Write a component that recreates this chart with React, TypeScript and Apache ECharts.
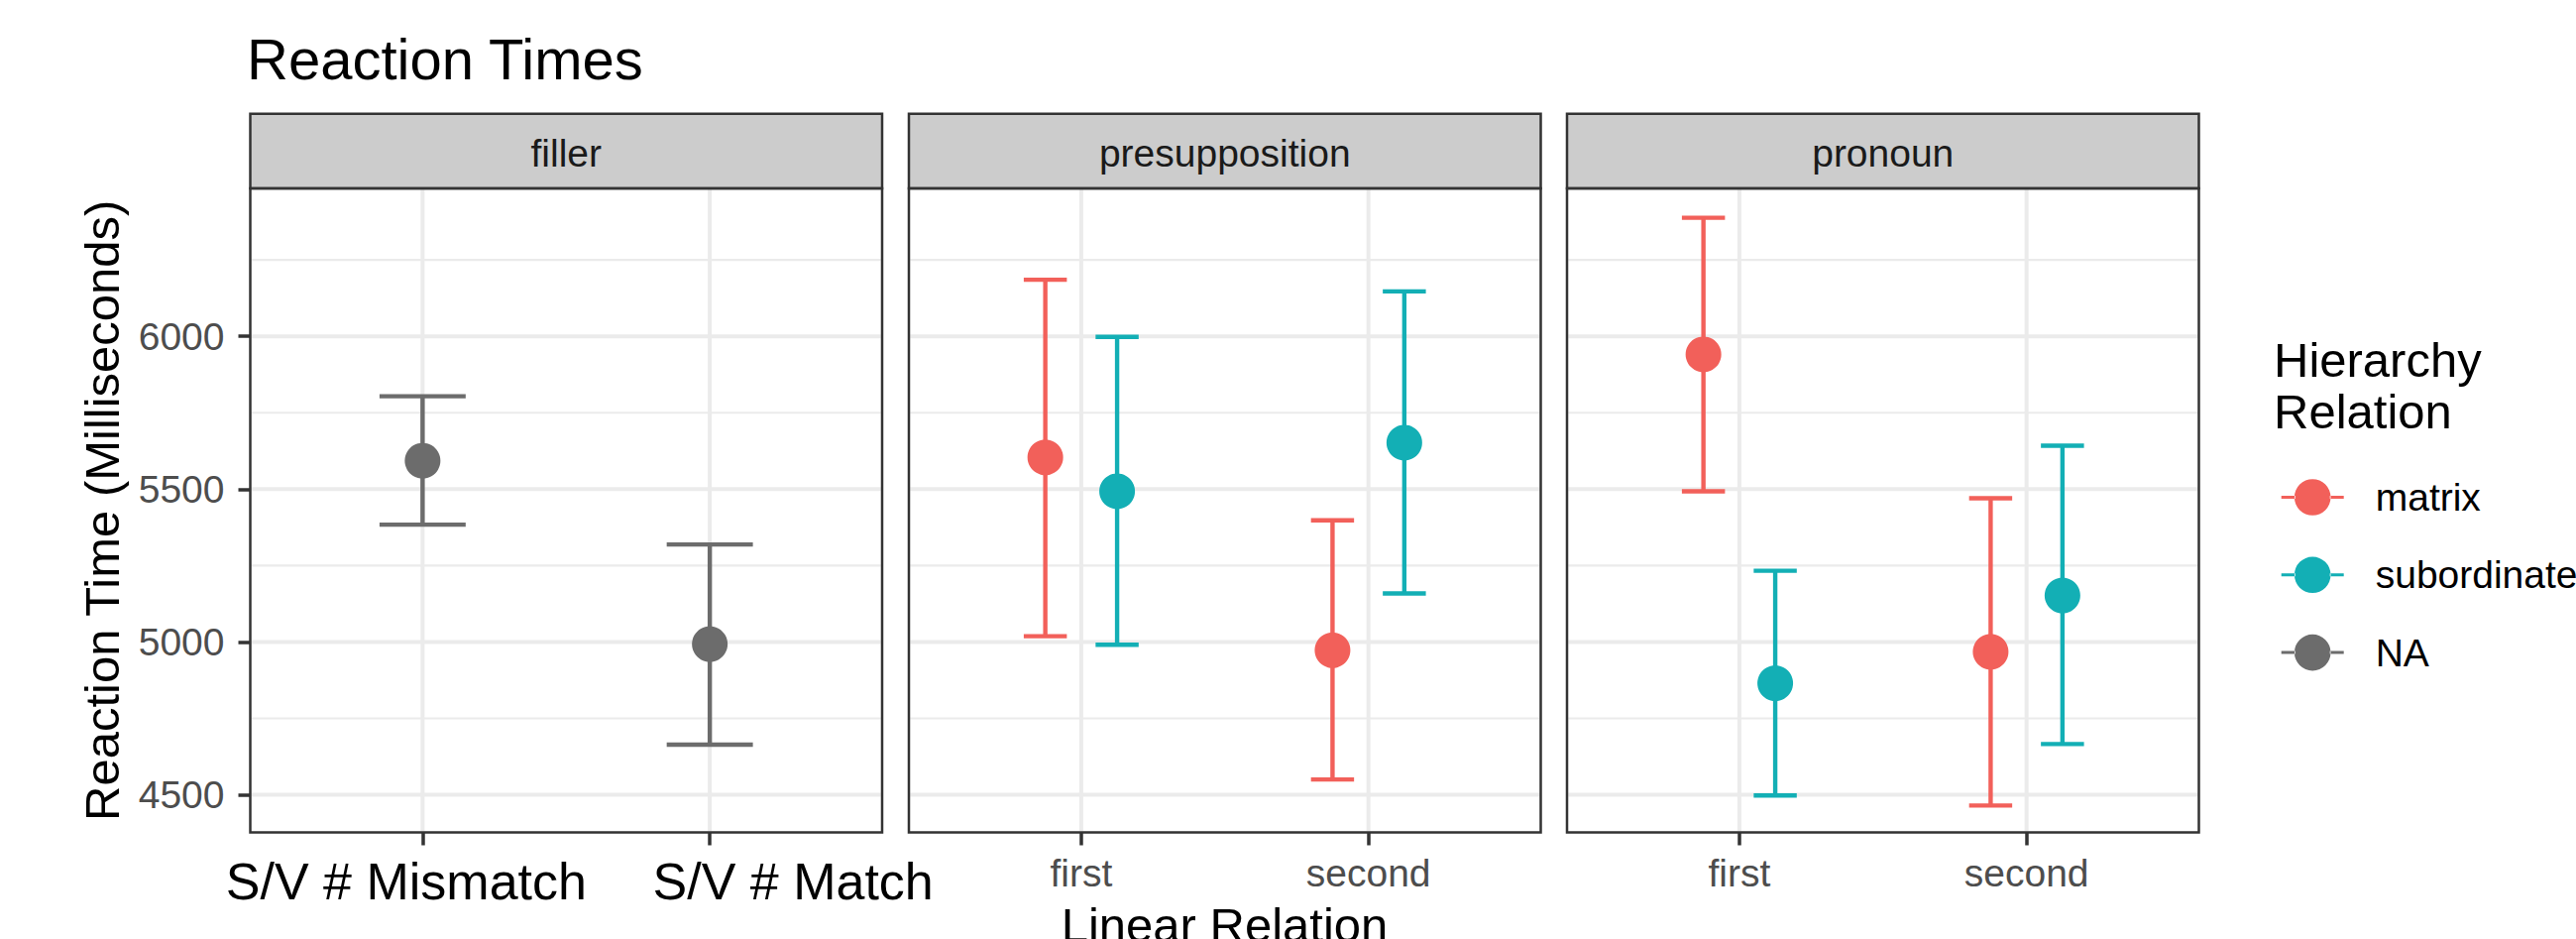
import React, { useEffect, useRef } from 'react';
import * as echarts from 'echarts';

// ---------------- data ----------------
const panelNames = ['filler', 'presupposition', 'pronoun'];
const fillerCategories = ['S/V # Mismatch', 'S/V # Match'];
const linearCategories = ['first', 'second'];
const yTickValues = [4500, 5000, 5500, 6000];
const yMinorValues = [4750, 5250, 5750, 6250];
const groupNames = ['matrix', 'subordinate', 'NA'];
const groupColors = ['#F2605A', '#13AFB5', '#6C6C6C'];

// filler (Hierarchy Relation = NA)
const fillerNAMean = [5593, 4993];
const fillerNALower = [5384, 4664];
const fillerNAUpper = [5804, 5319];

// presupposition
const presupMatrixMean = [5604, 4973];
const presupMatrixLower = [5019, 4550];
const presupMatrixUpper = [6185, 5398];
const presupSubMean = [5493, 5652];
const presupSubLower = [4991, 5159];
const presupSubUpper = [5998, 6147];

// pronoun
const pronounMatrixMean = [5941, 4968];
const pronounMatrixLower = [5493, 4465];
const pronounMatrixUpper = [6388, 5470];
const pronounSubMean = [4865, 5152];
const pronounSubLower = [4498, 4666];
const pronounSubUpper = [5233, 5642];

// ---------------- layout / style ----------------
const FONT = "'Liberation Sans', Arial, Helvetica, sans-serif";
const Y_MIN = 4377;
const Y_MAX = 6484;
const X_MIN = 0.4;
const X_MAX = 2.6;
const PANEL_LEFTS = [252.5, 917, 1581];
const PANEL_W = 637.5;
const PANEL_TOP = 190;
const PANEL_BOTTOM = 839.5;
const STRIP_TOP = 114.7;
const GRID_COLOR = '#EBEBEB';
const BORDER_COLOR = '#333333';
const DODGE = 0.125;
// horizontal offsets of the filler category labels from their ticks (as in the reference)
const FILLER_LABEL_SHIFT = [-16.5, 84];
const LEGEND_ICON =
  'path://M0,17 L14,17 L14,20 L0,20 Z M49,17 L63,17 L63,20 L49,20 Z M13.2,18.5 A18.3,18.3 0 1 0 49.8,18.5 A18.3,18.3 0 1 0 13.2,18.5 Z';

type Group = { name: string; mean: number[]; lower: number[]; upper: number[] };

const panelGroups: Group[][] = [
  [{ name: 'NA', mean: fillerNAMean, lower: fillerNALower, upper: fillerNAUpper }],
  [
    { name: 'matrix', mean: presupMatrixMean, lower: presupMatrixLower, upper: presupMatrixUpper },
    { name: 'subordinate', mean: presupSubMean, lower: presupSubLower, upper: presupSubUpper },
  ],
  [
    { name: 'matrix', mean: pronounMatrixMean, lower: pronounMatrixLower, upper: pronounMatrixUpper },
    { name: 'subordinate', mean: pronounSubMean, lower: pronounSubLower, upper: pronounSubUpper },
  ],
];

function colorOf(name: string) {
  return groupColors[groupNames.indexOf(name)];
}

const textStyleBase = (size: number, fill: string, align: string) => ({
  fontSize: size,
  fontFamily: FONT,
  fill,
  align,
  verticalAlign: 'middle',
  textAlign: align,
  textVerticalAlign: 'middle',
});

function buildOption() {
  const grids: any[] = [];
  const xAxes: any[] = [];
  const yAxes: any[] = [];
  const series: any[] = [];
  const graphics: any[] = [];

  const catPositions = [1, 2];

  panelNames.forEach((pname, p) => {
    const left = PANEL_LEFTS[p];
    grids.push({
      left,
      top: PANEL_TOP,
      width: PANEL_W,
      height: PANEL_BOTTOM - PANEL_TOP,
      show: false,
      containLabel: false,
      outerBoundsMode: 'none',
    });

    const isFiller = p === 0;
    xAxes.push({
      type: 'value',
      gridIndex: p,
      min: X_MIN,
      max: X_MAX,
      axisLine: { show: false },
      splitLine: { show: false },
      axisTick: {
        show: true,
        customValues: catPositions,
        length: 13,
        lineStyle: { color: BORDER_COLOR, width: 3.5 },
      },
      axisLabel: {
        show: !isFiller,
        customValues: catPositions,
        margin: 21,
        fontSize: 39,
        lineHeight: 39,
        color: '#4D4D4D',
        fontFamily: FONT,
        hideOverlap: false,
        formatter: (v: number) => linearCategories[Math.round(v) - 1],
      },
    });

    yAxes.push({
      type: 'value',
      gridIndex: p,
      min: Y_MIN,
      max: Y_MAX,
      axisLine: { show: false },
      splitLine: { show: false },
      axisTick: {
        show: p === 0,
        customValues: yTickValues,
        length: 12,
        lineStyle: { color: BORDER_COLOR, width: 3.5 },
      },
      axisLabel: {
        show: p === 0,
        customValues: yTickValues,
        margin: 26,
        fontSize: 39,
        color: '#4D4D4D',
        fontFamily: FONT,
        formatter: (v: number) => String(Math.round(v)),
      },
    });

    // grid lines (through the axis scales)
    const gridData: number[][] = [
      ...yTickValues.map((v) => [0, v]),
      ...yMinorValues.map((v) => [1, v]),
      ...catPositions.map((v) => [2, v]),
    ];
    series.push({
      type: 'custom',
      xAxisIndex: p,
      yAxisIndex: p,
      z: 1,
      silent: true,
      clip: false,
      data: gridData,
      renderItem: (params: any, api: any) => {
        const cs = params.coordSys;
        const kind = api.value(0);
        const v = api.value(1);
        const inset = 1.3;
        if (kind === 2) {
          const px = api.coord([v, Y_MIN])[0];
          return {
            type: 'line',
            shape: { x1: px, y1: cs.y + inset, x2: px, y2: cs.y + cs.height - inset },
            style: { stroke: GRID_COLOR, lineWidth: 4 },
          };
        }
        const py = api.coord([X_MIN, v])[1];
        return {
          type: 'line',
          shape: { x1: cs.x + inset, y1: py, x2: cs.x + cs.width - inset, y2: py },
          style: { stroke: GRID_COLOR, lineWidth: kind === 0 ? 4 : 2.2 },
        };
      },
    });

    // filler category labels, placed from the axis scale
    if (isFiller) {
      series.push({
        type: 'custom',
        xAxisIndex: p,
        yAxisIndex: p,
        z: 5,
        silent: true,
        clip: false,
        data: catPositions.map((c, i) => [c, i]),
        renderItem: (params: any, api: any) => {
          const i = api.value(1);
          const pt = api.coord([api.value(0), Y_MIN]);
          return {
            type: 'text',
            x: pt[0] + FILLER_LABEL_SHIFT[i],
            y: pt[1] + 49,
            style: { ...(textStyleBase(52, '#000', 'center') as any), text: fillerCategories[i] },
          };
        },
      });
    }

    const groups = panelGroups[p];
    const n = groups.length;
    const capWidth = 0.3 / n;
    groups.forEach((g, gi) => {
      const offset = n === 1 ? 0 : gi === 0 ? -DODGE : DODGE;
      const color = colorOf(g.name);
      const xs = catPositions.map((c) => c + offset);
      series.push({
        type: 'custom',
        name: g.name,
        xAxisIndex: p,
        yAxisIndex: p,
        z: 3,
        encode: { x: 0, y: [1, 2] },
        data: xs.map((x, i) => [x, g.lower[i], g.upper[i]]),
        renderItem: (params: any, api: any) => {
          const x = api.value(0);
          const lo = api.coord([x, api.value(1)]);
          const hi = api.coord([x, api.value(2)]);
          const half = api.size([capWidth, 0])[0] / 2;
          const st = { stroke: color, lineWidth: 4.4 };
          return {
            type: 'group',
            children: [
              { type: 'line', shape: { x1: hi[0], y1: hi[1], x2: lo[0], y2: lo[1] }, style: st },
              { type: 'line', shape: { x1: hi[0] - half, y1: hi[1], x2: hi[0] + half, y2: hi[1] }, style: st },
              { type: 'line', shape: { x1: lo[0] - half, y1: lo[1], x2: lo[0] + half, y2: lo[1] }, style: st },
            ],
          };
        },
      });
      series.push({
        type: 'scatter',
        name: g.name,
        xAxisIndex: p,
        yAxisIndex: p,
        z: 4,
        symbol: 'circle',
        symbolSize: 36,
        itemStyle: { color, opacity: 1 },
        data: xs.map((x, i) => [x, g.mean[i]]),
      });
    });

    // strip
    graphics.push({
      type: 'rect',
      z: 90,
      shape: { x: left, y: STRIP_TOP, width: PANEL_W, height: PANEL_TOP - STRIP_TOP },
      style: { fill: '#CCCCCC', stroke: BORDER_COLOR, lineWidth: 2.5 },
    });
    graphics.push({
      type: 'text',
      z: 91,
      x: left + PANEL_W / 2,
      y: 154,
      style: { ...textStyleBase(39, '#1A1A1A', 'center'), text: pname },
    });
    // panel border
    graphics.push({
      type: 'rect',
      z: 100,
      shape: { x: left, y: PANEL_TOP, width: PANEL_W, height: PANEL_BOTTOM - PANEL_TOP },
      style: { fill: 'none', stroke: BORDER_COLOR, lineWidth: 2.5 },
    });
  });

  // axis titles
  graphics.push({
    type: 'text',
    x: 103,
    y: (PANEL_TOP + PANEL_BOTTOM) / 2,
    rotation: Math.PI / 2,
    style: { ...textStyleBase(49, '#000', 'center'), text: 'Reaction Time (Milliseconds)' },
  });
  graphics.push({
    type: 'text',
    x: (PANEL_LEFTS[0] + PANEL_LEFTS[2] + PANEL_W) / 2,
    y: 933,
    style: { ...textStyleBase(49, '#000', 'center'), text: 'Linear Relation' },
  });
  // legend title
  ['Hierarchy', 'Relation'].forEach((t, i) => {
    graphics.push({
      type: 'text',
      x: 2294,
      y: 363 + i * 51.7,
      style: { ...textStyleBase(49, '#000', 'left'), text: t },
    });
  });

  return {
    animation: false,
    backgroundColor: '#ffffff',
    textStyle: { fontFamily: FONT },
    title: {
      text: 'Reaction Times',
      left: 249,
      top: 30,
      padding: 0,
      textStyle: { fontSize: 58, lineHeight: 58, fontWeight: 'normal', color: '#000', fontFamily: FONT },
    },
    legend: {
      orient: 'vertical',
      left: 2301.7,
      top: 482,
      padding: 0,
      itemWidth: 63,
      itemHeight: 37,
      itemGap: 39.3,
      data: groupNames.map((name, i) => ({ name, icon: LEGEND_ICON, itemStyle: { color: groupColors[i] } })),
      textStyle: { fontSize: 39, lineHeight: 39, color: '#000', fontFamily: FONT, padding: [0, 0, 0, 27] },
    },
    grid: grids,
    xAxis: xAxes,
    yAxis: yAxes,
    series,
    graphic: { elements: graphics },
  };
}

export default function App() {
  const ref = useRef<HTMLDivElement>(null);
  useEffect(() => {
    if (!ref.current) return;
    const chart = echarts.init(ref.current, undefined, { renderer: 'svg' });
    chart.setOption(buildOption() as any);
    return () => chart.dispose();
  }, []);
  return (
    <div
      ref={ref}
      style={{ position: 'absolute', left: 0, top: 0, width: 2599, height: 947 }}
    />
  );
}
